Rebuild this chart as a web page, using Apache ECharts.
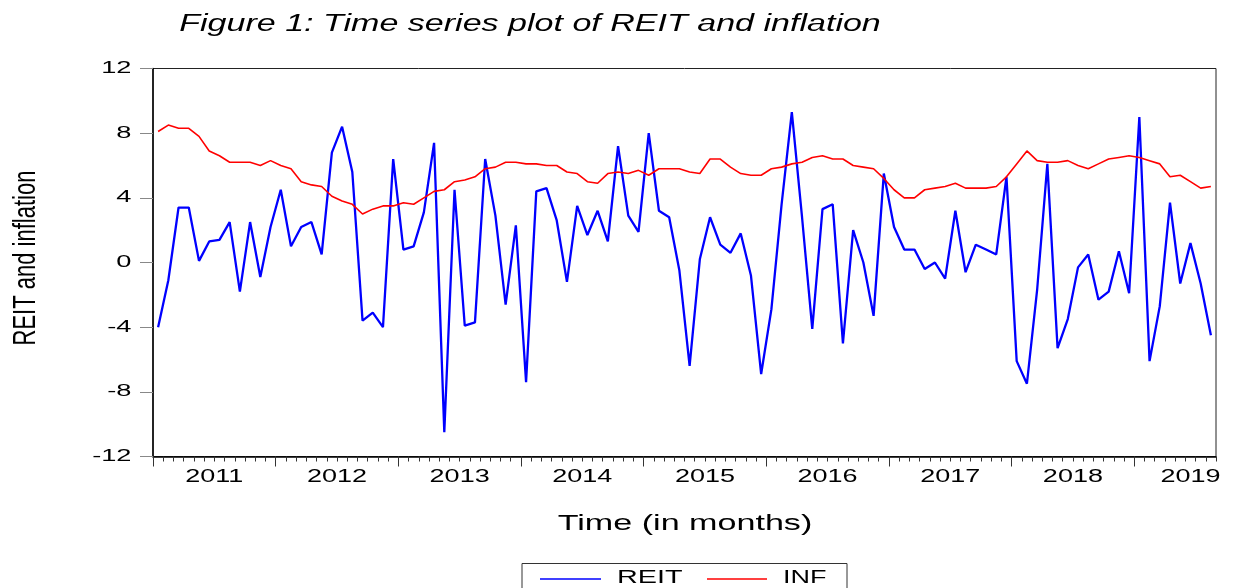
<!DOCTYPE html>
<html>
<head>
<meta charset="utf-8">
<title>REIT and inflation</title>
<script src="https://cdn.jsdelivr.net/npm/echarts@6/dist/echarts.min.js"></script>
<style>
  html, body { margin: 0; padding: 0; background: #fff; }
  #main { width: 1236px; height: 588px; }
</style>
</head>
<body>
<div id="main"></div>
<script>
// monthly data, Jan 2011 - Aug 2019
const startYear = 2011
const reit = [
  -4.0, -1.1, 3.4, 3.4, 0.1, 1.3, 1.4, 2.5, -1.8, 2.5, -0.9, 2.2,
  4.5, 1.0, 2.2, 2.5, 0.5, 6.8, 8.4, 5.6, -3.6, -3.1, -4.0, 6.4,
  0.8, 1.0, 3.1, 7.4, -10.5, 4.5, -3.9, -3.7, 6.4, 2.9, -2.6, 2.3,
  -7.4, 4.4, 4.6, 2.6, -1.2, 3.5, 1.7, 3.2, 1.3, 7.2, 2.9, 1.9,
  8.0, 3.2, 2.8, -0.5, -6.4, 0.2, 2.8, 1.1, 0.6, 1.8, -0.8, -6.9,
  -2.9, 3.6, 9.3, 2.8, -4.1, 3.3, 3.6, -5.0, 2.0, 0.0, -3.3, 5.5,
  2.2, 0.8, 0.8, -0.4, 0.0, -1.0, 3.2, -0.6, 1.1, 0.8, 0.5, 5.3,
  -6.1, -7.5, -1.7, 6.1, -5.3, -3.5, -0.3, 0.5, -2.3, -1.8, 0.7, -1.9,
  9.0, -6.1, -2.7, 3.7, -1.3, 1.2, -1.3, -4.5,
]
const inf = [
  8.1, 8.5, 8.3, 8.3, 7.8, 6.9, 6.6, 6.2, 6.2, 6.2, 6.0, 6.3,
  6.0, 5.8, 5.0, 4.8, 4.7, 4.1, 3.8, 3.6, 3.0, 3.3, 3.5, 3.5,
  3.7, 3.6, 4.0, 4.4, 4.5, 5.0, 5.1, 5.3, 5.8, 5.9, 6.2, 6.2,
  6.1, 6.1, 6.0, 6.0, 5.6, 5.5, 5.0, 4.9, 5.5, 5.6, 5.5, 5.7,
  5.4, 5.8, 5.8, 5.8, 5.6, 5.5, 6.4, 6.4, 5.9, 5.5, 5.4, 5.4,
  5.8, 5.9, 6.1, 6.2, 6.5, 6.6, 6.4, 6.4, 6.0, 5.9, 5.8, 5.2,
  4.5, 4.0, 4.0, 4.5, 4.6, 4.7, 4.9, 4.6, 4.6, 4.6, 4.7, 5.3,
  6.1, 6.9, 6.3, 6.2, 6.2, 6.3, 6.0, 5.8, 6.1, 6.4, 6.5, 6.6,
  6.5, 6.3, 6.1, 5.3, 5.4, 5.0, 4.6, 4.7,
]
const yearLabels = ['2011', '2012', '2013', '2014', '2015', '2016', '2017', '2018', '2019']
const yTicks = [12, 8, 4, 0, -4, -8, -12]

const nMonths = reit.length
const FONT = '"Liberation Sans", Arial, sans-serif'

// points sit in the middle of each month slot
const toPairs = (arr) => arr.map((v, i) => [i + 0.5, v])

// EViews draws its text wide, so stretch it horizontally
function wideText(txt, x, y, size, sx, align, vAlign, extra) {
  return Object.assign({
    type: 'text',
    x: x,
    y: y,
    scaleX: sx,
    silent: true,
    style: {
      text: txt,
      fill: '#000',
      fontSize: size,
      fontFamily: FONT,
      textAlign: align,
      textVerticalAlign: vAlign,
      align: align,
      verticalAlign: vAlign,
    },
  }, extra || {})
}

const chart = echarts.init(document.getElementById('main'))

const option = {
  animation: false,
  backgroundColor: '#fff',
  grid: {
    left: 153,
    right: 20,
    top: 68.5,
    bottom: 131.5,
    show: true,
    borderColor: '#222',
    borderWidth: 1,
  },
  xAxis: [
    {
      type: 'value',
      min: 0,
      max: nMonths,
      interval: 1,
      axisLine: { show: true, onZero: false, lineStyle: { color: '#000', width: 1.5 } },
      axisTick: { show: true, length: 5, lineStyle: { color: '#333' } },
      axisLabel: { show: false },
      splitLine: { show: false },
    },
    {
      type: 'value',
      position: 'bottom',
      min: 0,
      max: nMonths,
      interval: 12,
      axisLine: { show: false, onZero: false },
      axisTick: {
        show: true,
        length: 10,
        customValues: yearLabels.map((y, k) => k * 12).filter((v) => v <= nMonths),
        lineStyle: { color: '#333' },
      },
      axisLabel: { show: false },
      splitLine: { show: false },
    },
  ],
  yAxis: {
    type: 'value',
    min: -12,
    max: 12,
    interval: 4,
    axisLine: { show: true, onZero: false, lineStyle: { color: '#000', width: 1.5 } },
    axisTick: { show: true, length: 13, lineStyle: { color: '#888' } },
    axisLabel: { show: false },
    splitLine: { show: false },
  },
  series: [
    {
      name: 'REIT',
      type: 'line',
      data: toPairs(reit),
      showSymbol: false,
      lineStyle: { color: '#0000ff', width: 2.3 },
      itemStyle: { color: '#0000ff' },
    },
    {
      name: 'INF',
      type: 'line',
      data: toPairs(inf),
      showSymbol: false,
      lineStyle: { color: '#ff0000', width: 1.6 },
      itemStyle: { color: '#ff0000' },
    },
  ],
}

chart.setOption(option)

// tick labels, title, axis names and legend as stretched text
const graphics = []

yTicks.forEach((v) => {
  const py = chart.convertToPixel({ yAxisIndex: 0 }, v)
  graphics.push(wideText(String(v), 131.5, py, 16, 1.7, 'right', 'middle'))
})

yearLabels.forEach((lab, k) => {
  const pos = Math.min(k * 12 + 6, nMonths - 2.5)
  const px = chart.convertToPixel({ xAxisIndex: 0 }, pos)
  graphics.push(wideText(lab, px, 477, 18, 1.5, 'center', 'middle'))
})

graphics.push(wideText('Figure 1: Time series plot of REIT and inflation', 530, 25, 23, 1.48, 'center', 'middle', {
  style: {
    text: 'Figure 1: Time series plot of REIT and inflation',
    fill: '#000', fontSize: 23, fontStyle: 'italic', fontFamily: FONT,
    textAlign: 'center', textVerticalAlign: 'middle', align: 'center', verticalAlign: 'middle',
  },
}))

graphics.push(wideText('Time (in months)', 685, 524, 22, 1.55, 'center', 'middle'))

// y axis name: tall and narrow, reads bottom to top
graphics.push(wideText('REIT and inflation', 26, 258, 31, 0.71, 'center', 'middle', { rotation: Math.PI / 2 }))

// legend
graphics.push({
  type: 'rect',
  silent: true,
  shape: { x: 522, y: 563.5, width: 325, height: 40 },
  style: { fill: '#fff', stroke: '#333', lineWidth: 1 },
})
graphics.push({
  type: 'line',
  silent: true,
  shape: { x1: 540, y1: 579, x2: 601, y2: 579 },
  style: { stroke: '#0000ff', lineWidth: 1.5 },
})
graphics.push(wideText('REIT', 617, 578, 18, 1.6, 'left', 'middle'))
graphics.push({
  type: 'line',
  silent: true,
  shape: { x1: 707, y1: 579, x2: 767, y2: 579 },
  style: { stroke: '#ff0000', lineWidth: 1.5 },
})
graphics.push(wideText('INF', 783, 578, 18, 1.5, 'left', 'middle'))

chart.setOption({ graphic: graphics })
</script>
</body>
</html>
